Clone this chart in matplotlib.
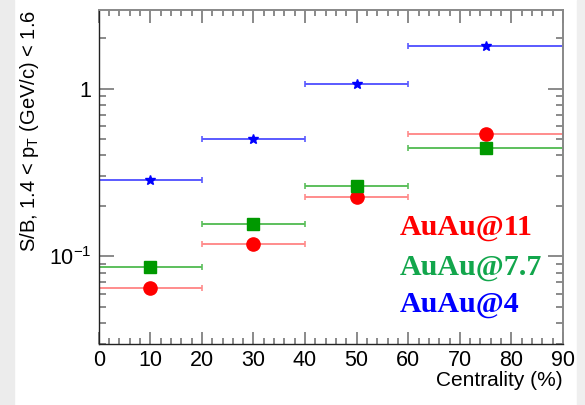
import numpy as np
import matplotlib
matplotlib.use("Agg")
import matplotlib.pyplot as plt
from matplotlib.patches import Rectangle
from matplotlib.ticker import LogLocator, MultipleLocator, NullFormatter, FixedFormatter, FixedLocator

# centrality bins (%)
cent_mid = [10, 30, 50, 75]
cent_err = [10, 10, 10, 15]

# S/B values
sb_au11 = [0.065, 0.119, 0.226, 0.537]
sb_au77 = [0.0867, 0.156, 0.263, 0.443]
sb_au4 = [0.286, 0.50, 1.07, 1.80]

labels = ["AuAu@11", "AuAu@7.7", "AuAu@4"]

plt.rcParams['font.family'] = ['Liberation Sans', 'DejaVu Sans']
plt.rcParams['mathtext.fontset'] = 'custom'
plt.rcParams['mathtext.rm'] = 'Liberation Sans'
plt.rcParams['mathtext.it'] = 'Liberation Sans:italic'

fig = plt.figure(figsize=(5.85, 4.05), dpi=100)
fig.patch.set_facecolor('white')
fig.patches.append(Rectangle((0, 0), 14/585, 1, transform=fig.transFigure,
                             color='#ececec', zorder=-10))
fig.patches.append(Rectangle((577/585, 0), 1, 1, transform=fig.transFigure,
                             color='#efefef', zorder=-10))

ax = fig.add_axes([0.1687, 0.1506, 0.9624 - 0.1687, 0.9765 - 0.1506])

# error bars (lighter lines) + markers
ax.errorbar(cent_mid, sb_au11, xerr=cent_err, fmt='none', ecolor='#ff8c8c',
            elinewidth=1.4, capsize=2.5, capthick=1.2)
ax.plot(cent_mid, sb_au11, 'o', color='#ff0000', ms=9.5, ls='none')

ax.errorbar(cent_mid, sb_au77, xerr=cent_err, fmt='none', ecolor='#5cbf5c',
            elinewidth=1.4, capsize=2.5, capthick=1.2)
ax.plot(cent_mid, sb_au77, 's', color='#009900', ms=8.5, ls='none')

ax.errorbar(cent_mid, sb_au4, xerr=cent_err, fmt='none', ecolor='#5a5aff',
            elinewidth=1.4, capsize=2.5, capthick=1.2)
ax.plot(cent_mid, sb_au4, '*', color='#0000ff', ms=7, ls='none')

ax.set_yscale('log')
ax.set_xlim(0, 90)
ax.set_ylim(0.03, 2.96)

ax.xaxis.set_major_locator(MultipleLocator(10))
ax.xaxis.set_minor_locator(MultipleLocator(2))
ax.yaxis.set_major_locator(FixedLocator([0.1, 1]))
ax.yaxis.set_major_formatter(FixedFormatter([r'$10^{-1}$', '1']))
ax.yaxis.set_minor_locator(LogLocator(base=10, subs=np.arange(2, 10)))
ax.yaxis.set_minor_formatter(NullFormatter())

ax.tick_params(which='both', direction='in', top=True, right=True,
               labelsize=15.5, color='#777777', width=1.2)
ax.tick_params(axis='x', which='major', length=9, pad=4)
ax.tick_params(axis='x', which='minor', length=4.5)
ax.tick_params(axis='y', which='major', length=10.5, pad=5)
ax.tick_params(axis='y', which='minor', length=5)
for s in ['top', 'right']:
    ax.spines[s].set_color('#888888')
    ax.spines[s].set_linewidth(1.4)
for s in ['left', 'bottom']:
    ax.spines[s].set_color('#222222')
    ax.spines[s].set_linewidth(1.0)

ax.set_xlabel('Centrality (%)', fontsize=15, loc='right')
ax.set_ylabel(r'S/B, 1.4 < p$_{\rm T}$ (GeV/c) < 1.6', fontsize=14.5, loc='top')
ax.yaxis.set_label_coords(-0.125, 1.0)
ax.xaxis.set_label_coords(1.0, -0.08)

colors = ['#ff0000', '#12a64c', '#0000ff']
ys = [235, 275, 312]
for lab, c, yp in zip(labels, colors, ys):
    fig.text(400/585, 1 - yp/405, lab, color=c, fontsize=21.6,
             fontfamily='Liberation Serif', fontweight='bold',
             ha='left', va='baseline')

fig.savefig('out.png', dpi=100, facecolor=fig.get_facecolor())
